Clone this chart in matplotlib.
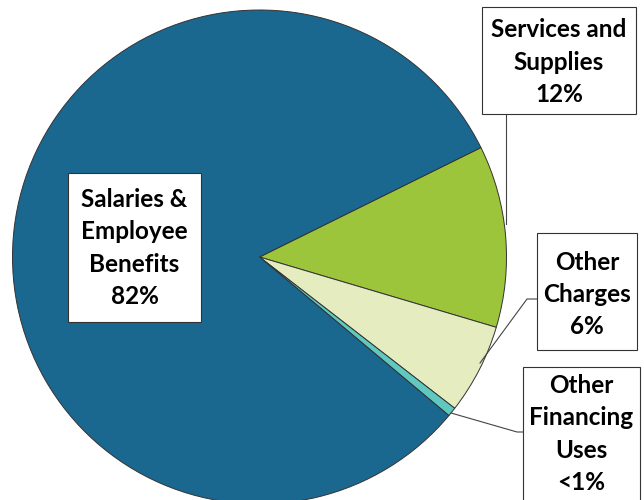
import matplotlib.pyplot as plt
from matplotlib.patches import Rectangle

# Budget shares (percent)
labels = ['Services and\nSupplies\n12%', 'Other\nCharges\n6%',
          'Other\nFinancing\nUses\n<1%', 'Salaries &\nEmployee\nBenefits\n82%']
shares = [11.9, 5.9, 0.6, 81.6]
colors = ['#9cc53b', '#e4ecc0', '#5fc9c0', '#1a6890']

# layout in pixels of the 644x500 image
W, H = 644, 500
cx, cy, r = 259.5, 257, 247


def px(x, y):
    return (x - cx) / r, (cy - y) / r


fig = plt.figure(figsize=(W / 100, H / 100), dpi=100)
ax = fig.add_axes([0, 0, 1, 1])
ax.pie(shares, colors=colors, startangle=26.3, counterclock=False,
       wedgeprops=dict(edgecolor='#333333', linewidth=0.7))
ax.set_xlim(-cx / r, (W - cx) / r)
ax.set_ylim((cy - H) / r, cy / r)
ax.axis('off')

# label boxes: (x0, y0, x1, y1) in pixels
boxes = [(482, 7, 636, 114), (537, 233, 637, 350),
         (523, 367, 640, 503), (68, 173, 201, 322)]
text_centers = [(559, 62), (587, 294.5), (581.5, 434), (134.5, 248)]

for lab, (x0, y0, x1, y1), (tx, ty) in zip(labels, boxes, text_centers):
    bx, by = px(x0, y1)
    ax.add_patch(Rectangle((bx, by), (x1 - x0) / r, (y1 - y0) / r,
                           facecolor='white', edgecolor='#333333',
                           linewidth=0.8, zorder=3))
    ax.text(*px(tx, ty), lab, ha='center', va='center', fontsize=17.5,
            fontweight='bold', family='Lato', linespacing=1.48, zorder=4)

# leader lines
leaders = [[(506, 115), (506, 224)],
           [(537, 299), (527, 299), (480, 363)],
           [(451, 413), (517, 432), (523, 432)]]
for pts in leaders:
    xs, ys = zip(*[px(x, y) for x, y in pts])
    ax.plot(xs, ys, color='#444444', linewidth=0.8, zorder=2)

fig.savefig('out.png', dpi=100)
